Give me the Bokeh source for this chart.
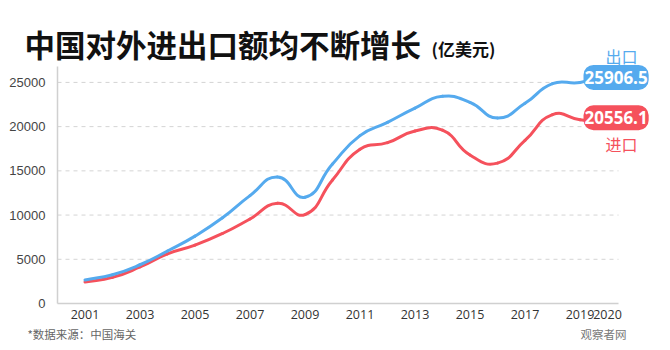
import numpy as np
from bokeh.plotting import figure
from bokeh.models import Range1d, FixedTicker, Label, ColumnDataSource
from bokeh.embed import file_html
from bokeh.resources import INLINE

years = [2001, 2002, 2003, 2004, 2005, 2006, 2007, 2008, 2009, 2010,
         2011, 2012, 2013, 2014, 2015, 2016, 2017, 2018, 2019, 2020]
exports = [2661, 3256, 4382, 5933, 7620, 9689, 12200, 14307, 12016, 15778,
           18984, 20487, 22090, 23423, 22735, 20976, 22633, 24867, 24990, 25906.5]
imports = [2436, 2952, 4128, 5612, 6600, 7915, 9561, 11326, 10059, 13962,
           17435, 18184, 19500, 19592, 16796, 15879, 18438, 21357, 20784, 20556.1]
x_ticks = [2001, 2003, 2005, 2007, 2009, 2011, 2013, 2015, 2017, 2019, 2020]
y_ticks = [0, 5000, 10000, 15000, 20000, 25000]

BLUE = "#55aaee"
RED = "#f5515c"

W, H = 670, 350
# plot area (in canvas pixels) and its data extent
FL, FR, FT, FB = 57, 618, 66, 303
ax_x0, ax_x1 = 2000.0, 2020.4
ax_y0, ax_y1 = 0, 26800
sx = (FR - FL) / (ax_x1 - ax_x0)
sy = (FB - FT) / (ax_y1 - ax_y0)
xr = Range1d(ax_x0 - FL / sx, ax_x1 + (W - FR) / sx)
yr = Range1d(ax_y0 - (H - FB) / sy, ax_y1 + FT / sy)

p = figure(width=W, height=H, output_backend="svg", toolbar_location=None,
           x_range=xr, y_range=yr, min_border=0,
           min_border_left=0, min_border_right=0,
           min_border_top=0, min_border_bottom=0)
p.title.visible = False
p.outline_line_color = None
p.background_fill_color = "white"
p.border_fill_color = "white"
p.xgrid.visible = False
p.ygrid.visible = False

# dashed horizontal grid, limited to the axis extent
gy = y_ticks[1:]
p.segment(x0=[ax_x0] * len(gy), x1=[ax_x1] * len(gy), y0=gy, y1=gy,
          line_color="#d4d4d4", line_dash="4 4", line_width=1)

xa = p.xaxis[0]
ya = p.yaxis[0]
xa.fixed_location = ax_y0
ya.fixed_location = ax_x0
xa.bounds = (ax_x0, ax_x1)
ya.bounds = (ax_y0, ax_y1)
for ax in (xa, ya):
    ax.axis_line_color = "#d0d0d0"
    ax.axis_line_width = 1.5
    ax.major_tick_line_color = None
    ax.minor_tick_line_color = None
xa.ticker = FixedTicker(ticks=x_ticks)
ya.ticker = FixedTicker(ticks=y_ticks)
xa.major_label_text_font = "Open Sans"
xa.major_label_text_font_size = "12.5px"
xa.major_label_text_color = "#333333"
xa.major_label_standoff = 0
ya.major_label_text_font = "Liberation Sans"
ya.major_label_text_font_size = "13px"
ya.major_label_text_color = "#444444"
ya.major_label_standoff = 6


def smooth_segments(xs, ys, s=0.5):
    xs = np.asarray(xs, float)
    ys = np.asarray(ys, float)
    n = len(xs)
    px = xs * sx
    py = ys * sy
    cin, cout = [], []
    for i in range(n):
        ip = max(i - 1, 0)
        inx = min(i + 1, n - 1)
        vx = px[inx] - px[ip]
        vy = py[inx] - py[ip]
        d0 = np.hypot(px[i] - px[ip], py[i] - py[ip])
        d1 = np.hypot(px[inx] - px[i], py[inx] - py[i])
        tot = d0 + d1 if d0 + d1 > 0 else 1
        cin.append((px[i] - vx * s * d0 / tot, py[i] - vy * s * d0 / tot))
        cout.append((px[i] + vx * s * d1 / tot, py[i] + vy * s * d1 / tot))
    data = dict(x0=[], y0=[], x1=[], y1=[], cx0=[], cy0=[], cx1=[], cy1=[])
    for i in range(n - 1):
        data["x0"].append(xs[i]); data["y0"].append(ys[i])
        data["x1"].append(xs[i + 1]); data["y1"].append(ys[i + 1])
        data["cx0"].append(cout[i][0] / sx); data["cy0"].append(cout[i][1] / sy)
        data["cx1"].append(cin[i + 1][0] / sx); data["cy1"].append(cin[i + 1][1] / sy)
    return ColumnDataSource(data)


for vals, col in ((imports, RED), (exports, BLUE)):
    src = smooth_segments(years, vals)
    p.bezier(x0="x0", y0="y0", x1="x1", y1="y1", cx0="cx0", cy0="cy0",
             cx1="cx1", cy1="cy1", source=src, line_color=col, line_width=3,
             line_cap="round")


def screen_label(text, cx, cy, size, color, font="Noto Sans CJK SC",
                 style="normal", align="left"):
    p.add_layout(Label(x=cx, y=H - cy, x_units="screen", y_units="screen",
                       text=text, text_font=font, text_font_size=size,
                       text_color=color, text_font_style=style,
                       text_align=align, text_baseline="middle"))


screen_label("中国对外进出口额均不断增长", 24, 43, "30.5px", "#111111", style="bold")
screen_label("(亿美元)", 431, 48, "17px", "#111111", style="bold")
screen_label("*数据来源：中国海关", 27, 333, "11.5px", "#666666")
screen_label("观察者网", 626, 333, "11.5px", "#777777", align="right")
screen_label("出口", 621, 55, "16px", BLUE, align="center")
screen_label("进口", 621, 143, "16px", RED, align="center")

for vals, col, dy in ((exports, BLUE, -3), (imports, RED, 4)):
    p.add_layout(Label(x=years[-1], y=vals[-1], x_offset=-24, y_offset=dy,
                       text=f"{vals[-1]:.1f}", text_font="Open Sans",
                       text_font_size="17px", text_font_style="bold",
                       text_color="white", text_align="left",
                       text_baseline="middle", background_fill_color=col,
                       border_radius=10, padding=(1, 6)))

open("out.html", "w").write(file_html(p, INLINE))
